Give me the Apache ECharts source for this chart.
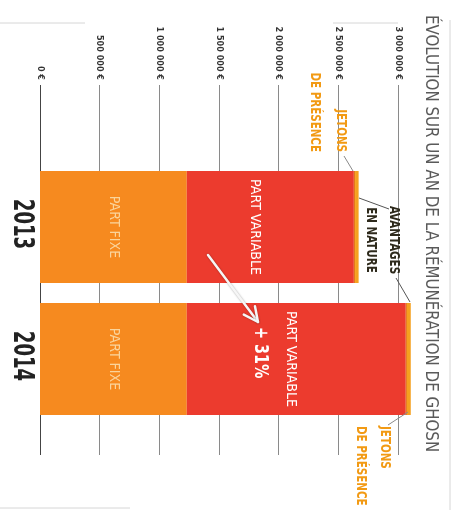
<!DOCTYPE html>
<html>
<head>
<meta charset="utf-8">
<script src="https://cdn.jsdelivr.net/npm/echarts@6.0.0/dist/echarts.min.js"></script>
<style>
  html, body { margin: 0; padding: 0; background: #ffffff; }
  #chart { width: 458px; height: 517px; }
</style>
</head>
<body>
<div id="chart"></div>
<script>
// Rémunération de Carlos Ghosn, 2013 vs 2014 (en euros)
const categories = ['2013', '2014'];
const partFixe = [1230000, 1230000];
const partVariable = [1400000, 1835000];
const avantagesNature = [10000, 10000];
const jetonsPresence = [30000, 32000];

const tickValues = [0, 500000, 1000000, 1500000, 2000000, 2500000, 3000000];
const tickLabels = ['0 €', '500 000 €', '1 000 000 €', '1 500 000 €', '2 000 000 €', '2 500 000 €', '3 000 000 €'];

const titleText = 'ÉVOLUTION SUR UN AN DE LA RÉMUNÉRATION DE GHOSN';
const variationText = '+ 31%';

const NARROW = "'Liberation Sans Narrow', 'DejaVu Sans Condensed', 'Roboto', sans-serif";
const VERT = -Math.PI / 2; // text reading top to bottom

const chart = echarts.init(document.getElementById('chart'), null, { renderer: 'canvas' });

// vertical text, optionally squeezed along its reading direction
function vText(x, y, text, opts, squeeze) {
  return {
    type: 'text', x: x, y: y, rotation: VERT, scaleX: squeeze || 1, z: 100,
    style: Object.assign({
      text: text,
      fontFamily: NARROW,
      textAlign: 'left', align: 'left',
      textVerticalAlign: 'middle', verticalAlign: 'middle'
    }, opts)
  };
}
function seg(x1, y1, x2, y2, color, w) {
  return {
    type: 'line', z: 100,
    shape: { x1: x1, y1: y1, x2: x2, y2: y2 },
    style: { stroke: color, lineWidth: w || 1 }
  };
}

// arrow from the 2013 variable part towards the 2014 one
const arrowFrom = [208, 255], arrowTo = [258, 322];
const ang = Math.atan2(arrowTo[1] - arrowFrom[1], arrowTo[0] - arrowFrom[0]);
const headLen = 16, headAng = 0.45;
const head1 = [arrowTo[0] - headLen * Math.cos(ang - headAng), arrowTo[1] - headLen * Math.sin(ang - headAng)];
const head2 = [arrowTo[0] - headLen * Math.cos(ang + headAng), arrowTo[1] - headLen * Math.sin(ang + headAng)];
const arrowStyle = { stroke: '#f6f6f6', lineWidth: 2.5, shadowColor: 'rgba(0,0,0,0.35)', shadowBlur: 2, lineCap: 'round', lineJoin: 'round', fill: null };

const barLabel = function (color, size) {
  return {
    show: true, position: 'inside', rotate: -90,
    color: color, fontFamily: NARROW, fontSize: size
  };
};

const option = {
  backgroundColor: '#ffffff',
  animation: false,
  grid: [
    { left: 40, top: 85, width: 358, height: 370 },
    { left: 40, top: 161, width: 358, height: 264 }
  ],
  xAxis: [
    {
      gridIndex: 0, type: 'value', position: 'top',
      min: 0, max: 3000000, interval: 500000,
      axisLine: { show: false }, axisTick: { show: false },
      axisLabel: {
        rotate: -90, margin: 5, fontSize: 9, fontWeight: 'bold',
        fontFamily: NARROW, color: '#333333',
        formatter: function (v) { return tickLabels[tickValues.indexOf(v)]; }
      },
      splitLine: { show: true, lineStyle: { color: ['#444444', '#8a8a8a', '#8a8a8a', '#8a8a8a', '#8a8a8a', '#8a8a8a', '#8a8a8a'], width: 1 } }
    },
    { gridIndex: 1, type: 'value', min: 0, max: 3000000, show: false }
  ],
  yAxis: [
    { gridIndex: 0, type: 'value', show: false },
    {
      gridIndex: 1, type: 'category', data: categories, inverse: true,
      axisLine: { show: false }, axisTick: { show: false },
      axisLabel: { show: false }
    }
  ],
  series: [
    {
      name: 'Part fixe', type: 'bar', stack: 'total', xAxisIndex: 1, yAxisIndex: 1,
      barWidth: 112, clip: false, data: partFixe,
      itemStyle: { color: '#F68A1F' },
      label: Object.assign(barLabel('#FAD49B', 14), { formatter: 'PART FIXE' })
    },
    {
      name: 'Part variable', type: 'bar', stack: 'total', xAxisIndex: 1, yAxisIndex: 1,
      barWidth: 112, clip: false,
      data: partVariable.map(function (v, i) {
        // offset is in the label's rotated frame: +y moves it to the left
        return { value: v, label: { offset: [0, i === 0 ? 16 : 6] } };
      }),
      itemStyle: { color: '#EC3B2E' },
      label: Object.assign(barLabel('#ffffff', 14), { formatter: 'PART VARIABLE' })
    },
    {
      name: 'Avantages en nature', type: 'bar', stack: 'total', xAxisIndex: 1, yAxisIndex: 1,
      barWidth: 112, clip: false, data: avantagesNature,
      itemStyle: { color: '#E5761B' }
    },
    {
      name: 'Jetons de présence', type: 'bar', stack: 'total', xAxisIndex: 1, yAxisIndex: 1,
      barWidth: 112, clip: false, data: jetonsPresence,
      itemStyle: { color: '#F5A11F' }
    }
  ]
};

chart.setOption(option);

const graphics = [
  // frame
  seg(0, 23, 85, 23, '#d6d6d6'),
  seg(333, 23, 398, 23, '#d6d6d6'),
  seg(450, 20, 450, 510, '#d6d6d6'),
  seg(0, 508, 130, 508, '#d6d6d6'),
  // title
  vText(431, 15, titleText, { fontSize: 18, fill: '#5a5a5a' }, 0.93),
  // annotations
  vText(328, 152, 'JETONS\nDE PRÉSENCE', { fontSize: 14, fontWeight: 'bold', fill: '#F29A14', textAlign: 'right', align: 'right', lineHeight: 26 }, 0.82),
  seg(344, 156, 353, 171, '#8a8a8a'),
  vText(382, 240, 'AVANTAGES\nEN NATURE', { fontSize: 14, fontWeight: 'bold', fill: '#2e2a1c', textAlign: 'center', align: 'center', lineHeight: 23 }, 0.82),
  seg(359, 198, 389, 209, '#555555'),
  seg(396, 278, 410, 302, '#555555'),
  vText(373, 426, 'JETONS\nDE PRÉSENCE', { fontSize: 14, fontWeight: 'bold', fill: '#F29A14', lineHeight: 24 }, 0.82),
  seg(408, 412, 388, 425, '#8a8a8a'),
  // growth arrow
  { type: 'line', z: 100, shape: { x1: arrowFrom[0], y1: arrowFrom[1], x2: arrowTo[0], y2: arrowTo[1] }, style: arrowStyle },
  { type: 'polyline', z: 100, shape: { points: [head1, arrowTo, head2] }, style: arrowStyle },
  vText(260, 327, variationText, { fontSize: 20, fontWeight: 'bold', fill: '#ffffff' }, 0.8)
];

// year labels, placed on the category axis bands
categories.forEach(function (cat) {
  const p = chart.convertToPixel({ xAxisIndex: 1, yAxisIndex: 1 }, [0, cat]);
  graphics.push(vText(21, p[1] - 3, cat, {
    fontSize: 28, fontWeight: 'bold', fill: '#222222',
    textAlign: 'center', align: 'center'
  }, 0.72));
});

chart.setOption({ graphic: graphics });
</script>
</body>
</html>
